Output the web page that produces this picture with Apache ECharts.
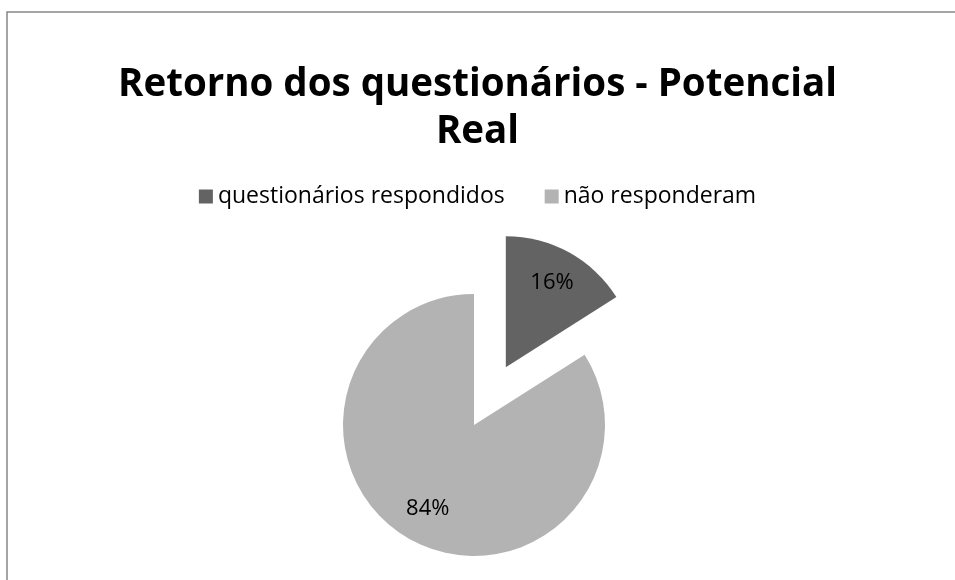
<!DOCTYPE html>
<html>
<head>
<meta charset="utf-8">
<script src="https://cdn.jsdelivr.net/npm/echarts@6/dist/echarts.min.js"></script>
<style>
  html, body { margin: 0; padding: 0; background: #fff; }
  #main { width: 955px; height: 580px; }
</style>
</head>
<body>
<div id="main"></div>
<script>
const categories = ["questionários respondidos", "não responderam"];
const values = [16, 84];
const colors = ["#636363", "#b3b3b3"];

const chart = echarts.init(document.getElementById("main"));

const pieData = categories.map((name, i) => ({
  name: name,
  value: values[i],
  selected: i === 0,
  itemStyle: { color: colors[i] },
}));

const options = {
  animation: false,
  backgroundColor: "#fff",
  title: {
    text: "Retorno dos questionários - Potencial\nReal",
    left: "center",
    top: 57,
    textStyle: {
      fontFamily: "Open Sans",
      fontWeight: "bold",
      fontSize: 38.5,
      lineHeight: 47,
      color: "#000",
    },
  },
  legend: {
    top: 180,
    left: "center",
    icon: "rect",
    itemWidth: 14,
    itemHeight: 14,
    itemGap: 40,
    itemTextGap: 6,
    selectedMode: false,
    data: categories,
    textStyle: {
      fontFamily: "Open Sans",
      fontSize: 23,
      color: "#000",
    },
  },
  graphic: [
    {
      type: "rect",
      shape: { x: 7, y: 12, width: 1200, height: 1200 },
      style: { fill: "none", stroke: "#878787", lineWidth: 1.5 },
      silent: true,
    },
  ],
  series: [
    {
      type: "pie",
      center: [474, 425],
      radius: [0, 131],
      startAngle: 90,
      clockwise: true,
      selectedMode: "multiple",
      selectedOffset: 66,
      silent: true,
      label: { show: false },
      labelLine: { show: false },
      emphasis: { disabled: true },
      data: pieData,
    },
    {
      // transparent ring, only used to put the percent labels further out
      type: "pie",
      center: [474, 425],
      radius: [55, 131],
      startAngle: 90,
      clockwise: true,
      selectedMode: "multiple",
      selectedOffset: 66,
      silent: true,
      itemStyle: { color: "rgba(0,0,0,0)" },
      label: {
        show: true,
        position: "inside",
        formatter: "{d}%",
        fontFamily: "Open Sans",
        fontSize: 22,
        color: "#000",
      },
      labelLine: { show: false },
      emphasis: { disabled: true },
      data: pieData.map((d) => ({ name: d.name, value: d.value, selected: d.selected })),
    },
  ],
};

chart.setOption(options);
</script>
</body>
</html>
